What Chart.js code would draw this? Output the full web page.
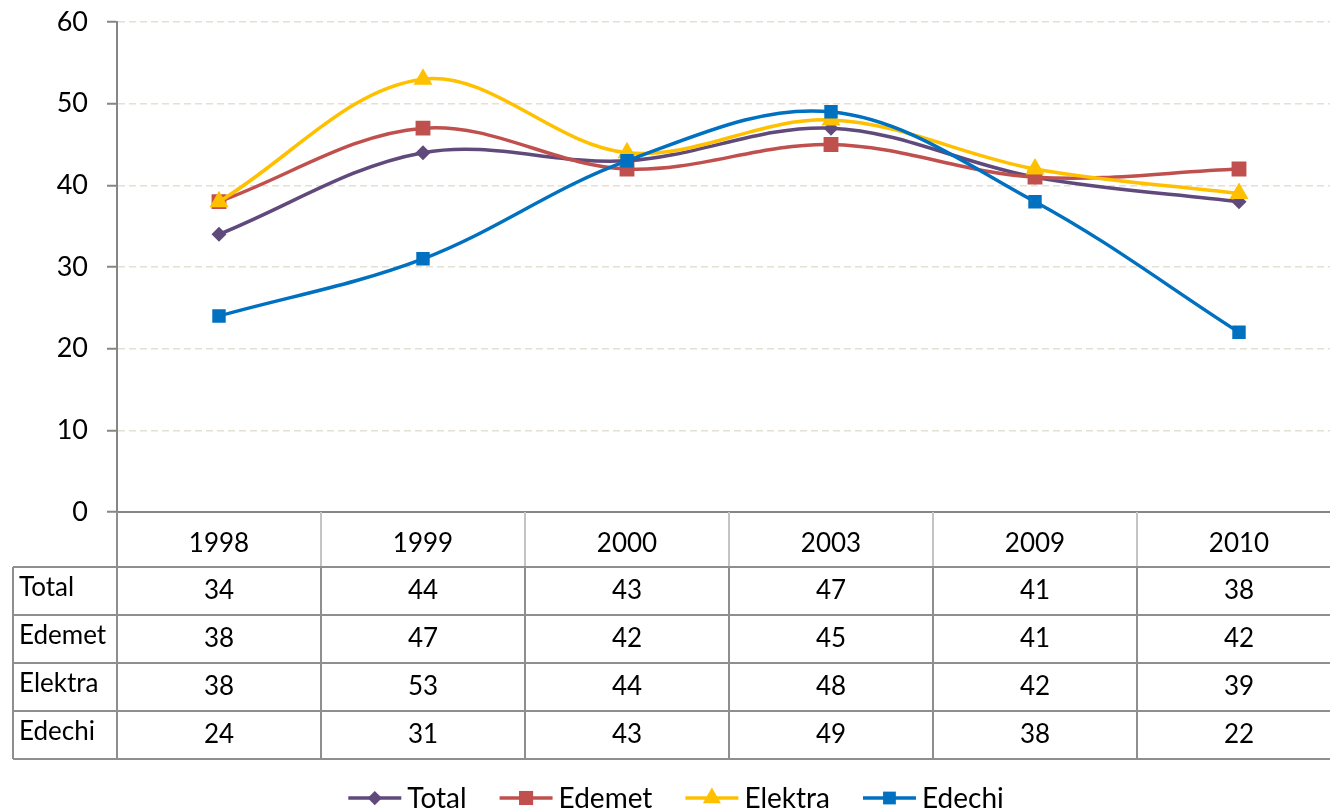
<!DOCTYPE html>
<html><head><meta charset="utf-8">
<script src="https://cdn.jsdelivr.net/npm/chart.js@4.4.0/dist/chart.umd.min.js"></script>
<style>
html,body{margin:0;padding:0;overflow:hidden;background:#fff;width:1330px;height:812px}
#wrap{position:absolute;left:0;top:0;width:1352px;height:812px}
</style></head>
<body><div id="wrap"><canvas id="c" width="1352" height="812"></canvas></div>
<script>
const categories = ['1998', '1999', '2000', '2003', '2009', '2010'];
const seriesNames = ['Total', 'Edemet', 'Elektra', 'Edechi'];
const totalValues = [34, 44, 43, 47, 41, 38];
const edemetValues = [38, 47, 42, 45, 41, 42];
const elektraValues = [38, 53, 44, 48, 42, 39];
const edechiValues = [24, 31, 43, 49, 38, 22];
const yTickValues = [0, 10, 20, 30, 40, 50, 60];

const seriesValues = [totalValues, edemetValues, elektraValues, edechiValues];
const seriesColors = ['#604A7B', '#C0504D', '#FFC000', '#0070C0'];
const seriesMarkers = ['rectRot', 'rect', 'triangle', 'rect'];
const seriesRadius = [7.5, 10.5, 11, 9.5];

const FONT = 'Lato';

function drawMarker(ctx, style, x, y, r, color) {
  ctx.save();
  ctx.fillStyle = color;
  ctx.beginPath();
  if (style === 'rectRot') {
    ctx.moveTo(x, y - r); ctx.lineTo(x + r, y); ctx.lineTo(x, y + r); ctx.lineTo(x - r, y);
  } else if (style === 'rect') {
    const s = r * Math.SQRT1_2;
    ctx.rect(x - s, y - s, 2 * s, 2 * s);
  } else if (style === 'triangle') {
    ctx.moveTo(x, y - r);
    ctx.lineTo(x + r * 0.866, y + r * 0.5);
    ctx.lineTo(x - r * 0.866, y + r * 0.5);
  }
  ctx.closePath();
  ctx.fill();
  ctx.restore();
}

const tablePlugin = {
  id: 'dataTable',
  afterDraw(chart) {
    const ctx = chart.ctx;
    const xs = chart.scales.x;
    const area = chart.chartArea;
    const n = categories.length;
    const step = (xs.right - xs.left) / n;
    const top = area.bottom;
    const headerBottom = top + 55;
    const rowH = 48;
    const tableLeft = 13;
    const tableBottom = headerBottom + rowH * seriesNames.length;
    ctx.save();
    ctx.strokeStyle = '#C4C4C4';
    ctx.lineWidth = 2;
    for (let i = 1; i <= n; i++) {
      const x = xs.left + i * step;
      ctx.beginPath(); ctx.moveTo(x, top); ctx.lineTo(x, headerBottom); ctx.stroke();
    }
    ctx.strokeStyle = '#8E8E8E';
    ctx.lineWidth = 2;
    for (let r = 0; r <= seriesNames.length; r++) {
      const y = headerBottom + r * rowH;
      ctx.beginPath(); ctx.moveTo(tableLeft, y); ctx.lineTo(xs.right, y); ctx.stroke();
    }
    ctx.beginPath(); ctx.moveTo(tableLeft, headerBottom); ctx.lineTo(tableLeft, tableBottom); ctx.stroke();
    for (let i = 0; i <= n; i++) {
      const x = xs.left + i * step;
      ctx.beginPath(); ctx.moveTo(x, i === 0 ? top : headerBottom); ctx.lineTo(x, tableBottom); ctx.stroke();
    }
    ctx.fillStyle = '#000';
    ctx.textBaseline = 'middle';
    ctx.font = '26px ' + FONT;
    seriesNames.forEach((name, r) => {
      const cy = headerBottom + r * rowH + rowH / 2;
      ctx.textAlign = 'left';
      ctx.fillText(name, 19, cy - 3);
      ctx.textAlign = 'center';
      seriesValues[r].forEach((v, i) => {
        ctx.fillText(String(v), xs.getPixelForValue(i), cy);
      });
    });
    ctx.font = '28px ' + FONT;
    const lineW = 53, gap1 = 6, gap2 = 33;
    const widths = seriesNames.map(s => lineW + gap1 + ctx.measureText(s).width);
    const total = widths.reduce((a, b) => a + b, 0) + gap2 * (widths.length - 1);
    let x = chart.width / 2 - total / 2;
    const ly = 798;
    seriesNames.forEach((name, k) => {
      ctx.strokeStyle = seriesColors[k];
      ctx.lineWidth = 3.5;
      ctx.beginPath(); ctx.moveTo(x, ly); ctx.lineTo(x + lineW, ly); ctx.stroke();
      drawMarker(ctx, seriesMarkers[k], x + lineW / 2, ly, seriesRadius[k] * 0.95, seriesColors[k]);
      ctx.fillStyle = '#000';
      ctx.textAlign = 'left';
      ctx.fillText(name, x + lineW + gap1, ly + 1);
      x += widths[k] + gap2;
    });
    ctx.restore();
  }
};

const datasets = seriesNames.map((name, k) => ({
  label: name,
  data: seriesValues[k],
  borderColor: seriesColors[k],
  backgroundColor: seriesColors[k],
  borderWidth: 3.5,
  pointStyle: seriesMarkers[k],
  pointRadius: seriesRadius[k],
  pointHoverRadius: seriesRadius[k],
  pointBorderWidth: 0,
  pointBackgroundColor: seriesColors[k],
  tension: 0.35,
  fill: false,
  order: seriesNames.length - k
}));

new Chart(document.getElementById('c'), {
  type: 'line',
  data: { labels: categories, datasets },
  options: {
    responsive: false,
    animation: false,
    devicePixelRatio: 1,
    layout: { padding: { top: 22, left: 0, right: 0, bottom: 0 } },
    plugins: { legend: { display: false }, tooltip: { enabled: false } },
    scales: {
      x: {
        type: 'category',
        offset: true,
        grid: { display: false },
        border: { display: true, color: '#868686', width: 2 },
        ticks: { font: { family: FONT, size: 26 }, color: '#000', padding: 8, maxRotation: 0 },
        afterFit(scale) { scale.height = 300; scale.paddingLeft = 0; scale.paddingRight = 0; }
      },
      y: {
        min: 0, max: 60,
        afterBuildTicks(scale) { scale.ticks = yTickValues.map(v => ({ value: v })); },
        ticks: { font: { family: FONT, size: 27 }, color: '#000', padding: 19 },
        grid: {
          color: (c) => (c.tick && c.tick.value === 0) ? 'rgba(0,0,0,0)' : '#E4E0D2',
          lineWidth: 1.5,
          tickLength: 10,
          tickColor: '#868686',
          tickWidth: 2,
          tickBorderDash: []
        },
        border: { display: true, color: '#868686', width: 2, dash: [7, 4] },
        afterFit(scale) { scale.width = 117; scale.paddingTop = 0; scale.paddingBottom = 0; }
      }
    }
  },
  plugins: [tablePlugin]
});
</script>
</body></html>
